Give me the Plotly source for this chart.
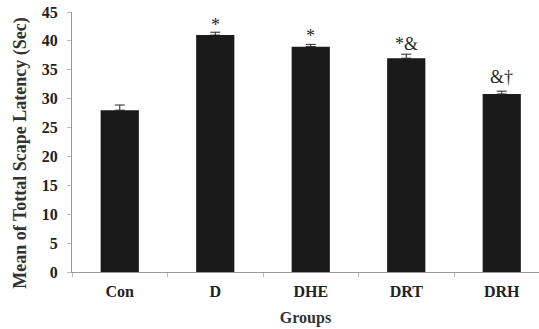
import plotly.graph_objects as go

groups = ["Con", "D", "DHE", "DRT", "DRH"]
means = [28.0, 41.0, 39.0, 37.0, 30.8]
errors = [0.9, 0.5, 0.4, 0.7, 0.5]
marks = ["", "*", "*", "*&", "&†"]
mark_y = [0, 42.8, 40.9, 39.4, 33.8]
y_title = "Mean of Tottal Scape Latency (Sec)"

serif = "Liberation Serif, Times New Roman, serif"

fig = go.Figure()
fig.add_trace(go.Bar(
    x=groups, y=means, width=0.4,
    marker=dict(color="#1a1a1a", line=dict(width=0)),
    error_y=dict(type="data", array=errors, arrayminus=[0]*len(errors), symmetric=False,
                 color="#222", thickness=1, width=5),
))

for g, m, yy in zip(groups, marks, mark_y):
    if m:
        fig.add_annotation(x=g, y=yy, text=m, showarrow=False,
                           font=dict(family=serif, size=18, color="#2a2a2a"))

# y-axis title placed as rotated text, slightly below the plot centre as in the reference
fig.add_annotation(
    text=y_title, textangle=-90, showarrow=False,
    xref="paper", yref="paper", x=0, y=0.455, xanchor="center", yanchor="middle",
    xshift=-51,
    font=dict(family=serif, size=18, color="#333", weight="bold"),
)

fig.update_layout(
    width=539, height=329,
    margin=dict(l=72, r=0, t=12, b=57, pad=0),
    paper_bgcolor="white", plot_bgcolor="white",
    showlegend=False,
    font=dict(family=serif, color="#222"),
    bargap=0.6,
)
fig.update_xaxes(
    type="category", range=[-0.5, 4.39], automargin=False,
    showline=True, linecolor="#999", linewidth=1,
    ticks="outside", tickson="boundaries", ticklen=4, tickcolor="#bbb",
    ticklabelstandoff=5,
    tickfont=dict(family=serif, size=16, color="#222", weight="bold"),
    title=dict(text="Groups", font=dict(family=serif, size=16, color="#333", weight="bold"), standoff=12),
    showgrid=False,
)
fig.update_yaxes(
    range=[0, 45], dtick=5, automargin=False,
    showline=True, linecolor="#999", linewidth=1,
    ticks="outside", ticklen=4, tickcolor="#bbb",
    ticklabelstandoff=6,
    tickfont=dict(family=serif, size=16, color="#222", weight="bold"),
    showgrid=False, zeroline=False,
)

fig.write_html("out.html", config={"displayModeBar": False},
               post_script="document.body.style.margin='0';")
